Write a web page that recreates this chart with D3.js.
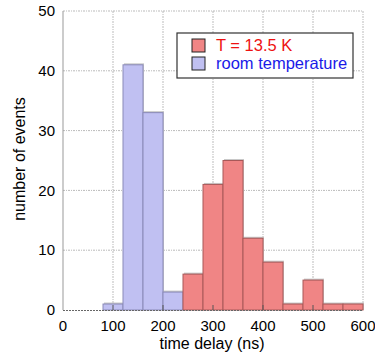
<!DOCTYPE html>
<html lang="en">
<head>
  <meta charset="utf-8" />
  <title>Time delay histogram</title>
  <script src="https://d3js.org/d3.v7.min.js"></script>
  <style>
    body { margin: 0; background: #fff; }
    text { font-family: "Liberation Sans", Arial, sans-serif; }
  </style>
</head>
<body>
  <div id="chart"></div>
  <script>
    // bin edges (ns), 40 ns wide
    var binStarts = [0, 40, 80, 120, 160, 200, 240, 280, 320, 360, 400, 440, 480, 520, 560];
    var binWidth = 40;
    // counts per bin
    var roomCounts = [0, 0, 1, 41, 33, 3, 0, 0, 0, 0, 0, 0, 0, 0, 0];
    var coldCounts = [0, 0, 0, 0, 0, 0, 6, 21, 25, 12, 8, 1, 5, 1, 1];

    var xTicks = [0, 100, 200, 300, 400, 500, 600];
    var yTicks = [0, 10, 20, 30, 40, 50];

    var legendLabels = ["T = 13.5 K", "room temperature"];

    var margin = {top: 11, right: 12, bottom: 48, left: 63};
    var width = 375, height = 358;
    var innerW = width - margin.left - margin.right;
    var innerH = height - margin.top - margin.bottom;

    var svg = d3.select("#chart")
                .append("svg")
                .attr("width", width)
                .attr("height", height);

    var g = svg.append("g")
               .attr("transform", "translate(" + margin.left + "," + margin.top + ")");

    var x = d3.scaleLinear().domain([0, 600]).range([0, innerW]);
    var y = d3.scaleLinear().domain([0, 50]).range([innerH, 0]);

    // grid
    g.selectAll(".vgrid")
     .data(xTicks.slice(1))
     .enter()
     .append("line")
     .attr("x1", function(d) { return x(d) })
     .attr("x2", function(d) { return x(d) })
     .attr("y1", 0)
     .attr("y2", innerH)
     .attr("stroke", "#bbb")
     .attr("stroke-width", 1)
     .attr("stroke-dasharray", "2,1,1,1");

    g.selectAll(".hgrid")
     .data(yTicks.slice(1))
     .enter()
     .append("line")
     .attr("x1", 0)
     .attr("x2", innerW)
     .attr("y1", function(d) { return y(d) })
     .attr("y2", function(d) { return y(d) })
     .attr("stroke", "#bbb")
     .attr("stroke-width", 1)
     .attr("stroke-dasharray", "2,1,1,1");

    // left frame
    g.append("line")
     .attr("x1", 0).attr("x2", 0)
     .attr("y1", 0).attr("y2", innerH)
     .attr("stroke", "#999");

    function drawBars(counts, fill, stroke) {
      var data = binStarts.map(function(s, i) { return {x0: s, n: counts[i]} })
                          .filter(function(d) { return d.n > 0 });
      // light shadow
      g.selectAll(null)
       .data(data)
       .enter()
       .append("rect")
       .attr("x", function(d) { return x(d.x0) + 1 })
       .attr("y", function(d) { return y(d.n) - 1.5 })
       .attr("width", x(binWidth) - x(0))
       .attr("height", function(d) { return y(0) - y(d.n) + 1.5 })
       .attr("fill", "#c8c8c8");
      g.selectAll(null)
       .data(data)
       .enter()
       .append("rect")
       .attr("x", function(d) { return x(d.x0) })
       .attr("y", function(d) { return y(d.n) })
       .attr("width", x(binWidth) - x(0))
       .attr("height", function(d) { return y(0) - y(d.n) })
       .attr("fill", fill)
       .attr("stroke", stroke)
       .attr("stroke-width", 1);
    }

    drawBars(roomCounts, "#c0c0f2", "#8a8ab8");
    drawBars(coldCounts, "#f08585", "#a85858");

    // bottom axis line (dotted)
    g.append("line")
     .attr("x1", 0).attr("x2", innerW)
     .attr("y1", innerH + 0.5).attr("y2", innerH + 0.5)
     .attr("stroke", "#666")
     .attr("stroke-dasharray", "2,1");

    // tick marks (inward)
    g.selectAll(".xt")
     .data(xTicks.slice(1, -1))
     .enter()
     .append("line")
     .attr("x1", function(d) { return x(d) })
     .attr("x2", function(d) { return x(d) })
     .attr("y1", innerH)
     .attr("y2", innerH - 5)
     .attr("stroke", "#555");

    // tick labels
    g.selectAll(".xl")
     .data(xTicks)
     .enter()
     .append("text")
     .attr("x", function(d) { return x(d) })
     .attr("y", innerH + 21)
     .attr("text-anchor", "middle")
     .attr("font-size", 15)
     .text(function(d) { return d });

    g.selectAll(".yl")
     .data(yTicks)
     .enter()
     .append("text")
     .attr("x", -8)
     .attr("y", function(d) { return y(d) })
     .attr("dy", "0.35em")
     .attr("text-anchor", "end")
     .attr("font-size", 15)
     .text(function(d) { return d });

    // axis titles
    svg.append("text")
       .attr("x", 212)
       .attr("y", 349)
       .attr("text-anchor", "middle")
       .attr("font-size", 16)
       .text("time delay (ns)");

    svg.append("text")
       .attr("transform", "translate(25,159) rotate(-90)")
       .attr("text-anchor", "middle")
       .attr("font-size", 16)
       .text("number of events");

    // legend
    var lg = svg.append("g").attr("transform", "translate(177,33)");
    lg.append("rect")
      .attr("x", 0).attr("y", 0)
      .attr("width", 176).attr("height", 45)
      .attr("fill", "#fff")
      .attr("stroke", "#333")
      .attr("stroke-width", 1.2);

    var legendFill = ["#f08585", "#c0c0f2"];
    var legendText = ["#ee1111", "#1a1ae8"];
    lg.selectAll(".sw")
      .data(legendLabels)
      .enter()
      .append("rect")
      .attr("x", 15)
      .attr("y", function(d, i) { return 6 + i * 18 })
      .attr("width", 13)
      .attr("height", 13)
      .attr("fill", function(d, i) { return legendFill[i] })
      .attr("stroke", "#222");

    lg.selectAll(".lt")
      .data(legendLabels)
      .enter()
      .append("text")
      .attr("x", 39)
      .attr("y", function(d, i) { return 18 + i * 18 })
      .attr("font-size", 16.5)
      .attr("fill", function(d, i) { return legendText[i] })
      .text(function(d) { return d });
  </script>
</body>
</html>
